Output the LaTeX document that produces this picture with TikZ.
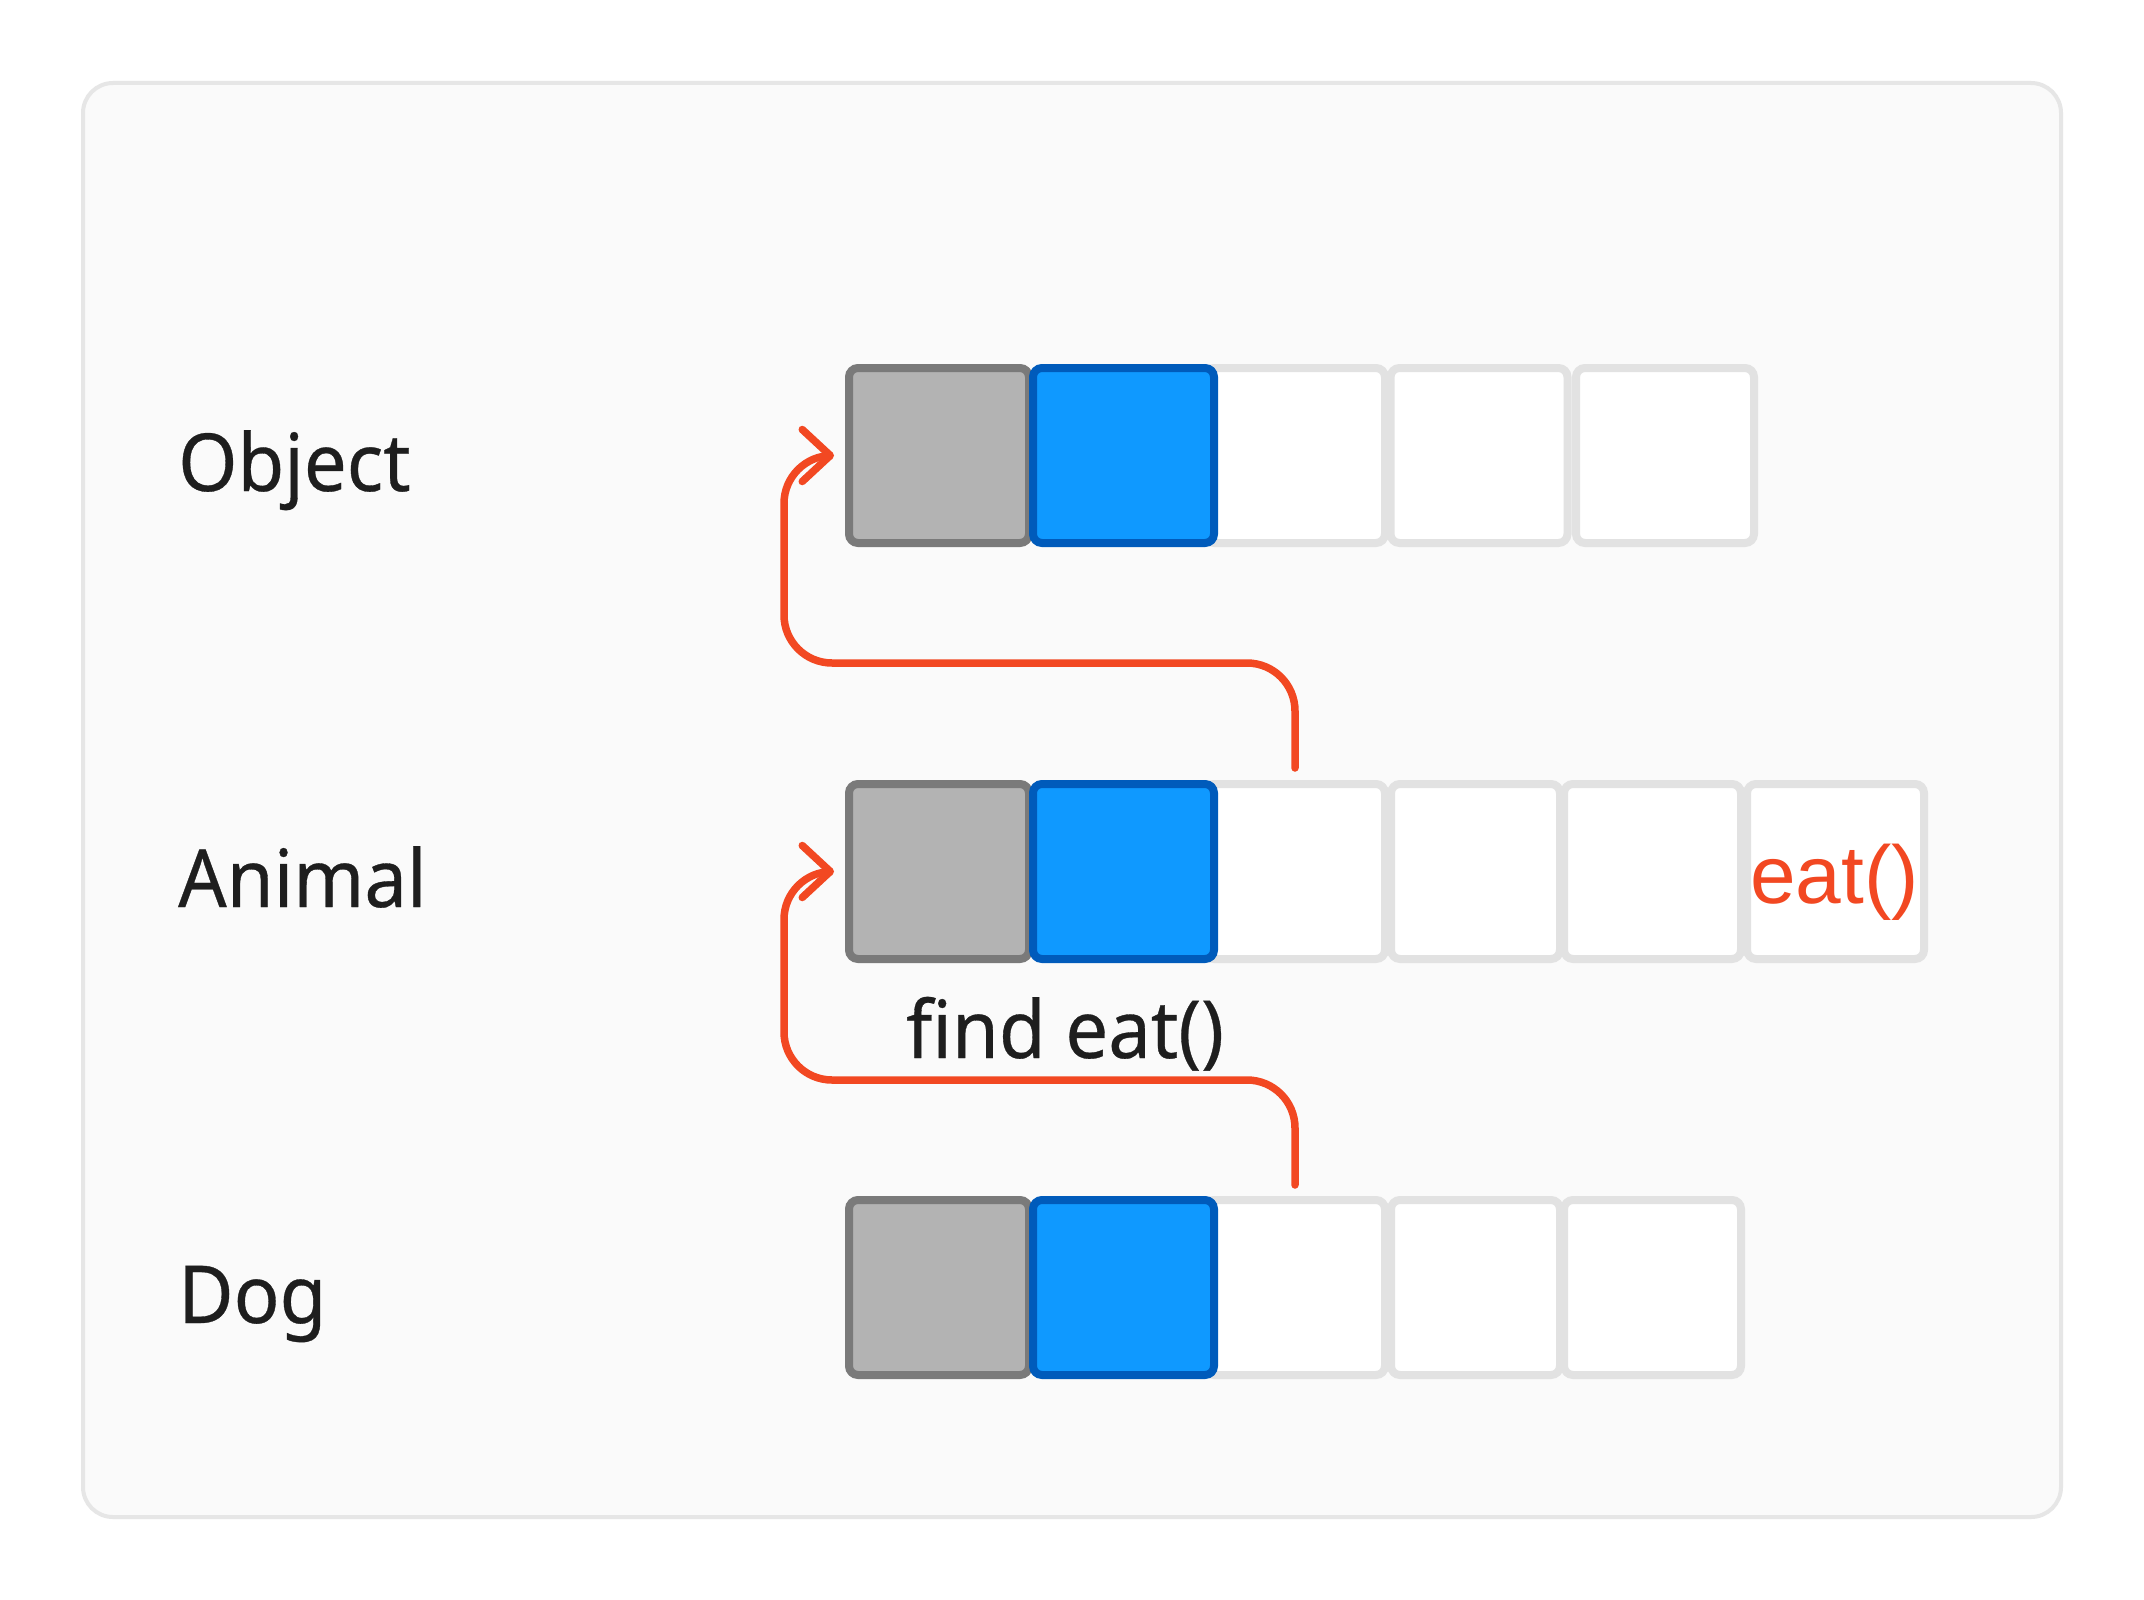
\documentclass[tikz,border=0pt]{standalone}
\usepackage{fontspec}
\setmainfont{Noto Sans}[FakeStretch=0.95, FakeBold=0.4]
\newfontfamily\redfont{Liberation Sans}
\usetikzlibrary{arrows.meta}
\definecolor{panelbg}{HTML}{FAFAFA}
\definecolor{panelbd}{HTML}{E6E6E6}
\definecolor{grayfill}{HTML}{B3B3B3}
\definecolor{graybd}{HTML}{7A7A7A}
\definecolor{bluefill}{HTML}{0F99FF}
\definecolor{bluebd}{HTML}{005BBB}
\definecolor{whitebd}{HTML}{E2E2E2}
\definecolor{accent}{HTML}{F24822}
\definecolor{ink}{HTML}{1E1E1E}
\tikzset{
  cell/.style={rectangle, rounded corners=9pt, line width=8pt, minimum height=175pt, inner sep=0pt, outer sep=0pt},
  graycell/.style={cell, fill=grayfill, draw=graybd, minimum width=180pt},
  bluecell/.style={cell, fill=bluefill, draw=bluebd, minimum width=181pt},
  whitecell/.style={cell, fill=white, draw=whitebd},
  rowlabel/.style={anchor=base west, inner sep=0pt, text=ink, font=\fontsize{80}{96}\selectfont},
  conn/.style={draw=accent, line width=7.5pt, line cap=round, rounded corners=48pt, -{Straight Barb[length=28pt,width=52pt,round]}}
}
\begin{document}
\begin{tikzpicture}[x=1pt,y=-1pt]
\fill[white] (0,0) rectangle (2144,1600);
\useasboundingbox (0,0) rectangle (2144,1600);
\filldraw[fill=panelbg, draw=panelbd, line width=4pt, rounded corners=30pt] (83,83) rectangle (2061,1517);

% Object row
\node[whitecell, minimum width=180pt] (oW1) at (1295,455.5) {};
\node[whitecell, minimum width=177pt] (oW2) at (1479,455.5) {};
\node[whitecell, minimum width=178pt] (oW3) at (1665,455.5) {};
\node[graycell] (oG) at (939,455.5) {};
\node[bluecell] (oB) at (1123.5,455.5) {};
\node[rowlabel] (oL) at (178,491) {Object};

% Animal row
\node[whitecell, minimum width=180pt] (aW1) at (1295,871.5) {};
\node[whitecell, minimum width=169pt] (aW2) at (1475.5,871.5) {};
\node[whitecell, minimum width=177pt] (aW3) at (1652.5,871.5) {};
\node[whitecell, minimum width=177pt] (aW4) at (1835.5,871.5) {};
\node[graycell] (aG) at (939,871.5) {};
\node[bluecell] (aB) at (1123.5,871.5) {};
\node[rowlabel] (aL) at (178,907) {Animal};
\node[anchor=base east, inner sep=0pt, text=accent, font=\redfont\fontsize{82}{96}\selectfont] (eat) at (1919,903) {eat()};

% Dog row
\node[whitecell, minimum width=180pt] (dW1) at (1295,1287.5) {};
\node[whitecell, minimum width=169pt] (dW2) at (1475.5,1287.5) {};
\node[whitecell, minimum width=177pt] (dW3) at (1652.5,1287.5) {};
\node[graycell] (dG) at (939,1287.5) {};
\node[bluecell] (dB) at (1123.5,1287.5) {};
\node[rowlabel] (dL) at (178,1323) {Dog};

\node[rowlabel] (find) at (906,1058) {find eat()};

% connectors
\coordinate (s1) at (1295,768);
\coordinate (c1) at (784,663);
\coordinate (t1) at ([xshift=-15pt]oG.west);
\draw[conn] (s1) |- (c1) |- (t1);

\coordinate (s2) at (1295,1185);
\coordinate (c2) at (784,1080);
\coordinate (t2) at ([xshift=-15pt]aG.west);
\draw[conn] (s2) |- (c2) |- (t2);
\end{tikzpicture}
\end{document}
